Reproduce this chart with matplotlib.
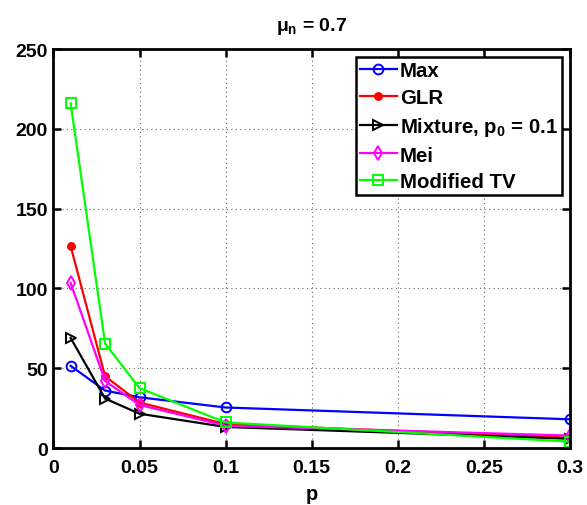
import matplotlib
matplotlib.use("Agg")
import matplotlib.pyplot as plt

plt.rcParams['font.family'] = ['Liberation Sans', 'DejaVu Sans']
plt.rcParams['font.weight'] = 'bold'
plt.rcParams['mathtext.fontset'] = 'custom'
plt.rcParams['mathtext.rm'] = 'Liberation Sans:bold'
plt.rcParams['mathtext.it'] = 'Liberation Sans:bold'
plt.rcParams['mathtext.bf'] = 'Liberation Sans:bold'

p = [0.01, 0.03, 0.05, 0.1, 0.3]
max_vals = [51.5, 36, 31.8, 25.4, 18]
glr_vals = [126.5, 45, 28.5, 15, 6.5]
mixture_vals = [69, 31, 21.5, 13.2, 5.8]
mei_vals = [103.5, 42, 27, 14, 7.8]
modtv_vals = [216, 65.5, 37.5, 16, 4]

series = [
    ("Max", max_vals, '#0000ff', 'o', 'none'),
    ("GLR", glr_vals, '#ff0000', '.', None),
    (r"Mixture, $\mathregular{p_0}$ = 0.1", mixture_vals, '#000000', '>', 'none'),
    ("Mei", mei_vals, '#ff00ff', 'd', 'none'),
    ("Modified TV", modtv_vals, '#00ff00', 's', 'none'),
]

fig = plt.figure(figsize=(5.87, 5.06), dpi=100)
ax = fig.add_axes([0.091, 0.1126, 0.880, 0.7884])

for label, vals, color, marker, mfc in series:
    kw = dict(color=color, marker=marker, lw=1.6, label=label, mew=1.4)
    if mfc == 'none':
        kw['mfc'] = 'none'
        kw['ms'] = 7
    else:
        kw['ms'] = 10
    ax.plot(p, vals, **kw)

ax.set_xlim(0, 0.3)
ax.set_ylim(0, 250)
ax.set_xticks([0, 0.05, 0.1, 0.15, 0.2, 0.25, 0.3])
ax.set_xticklabels(['0', '0.05', '0.1', '0.15', '0.2', '0.25', '0.3'])
ax.set_yticks([0, 50, 100, 150, 200, 250])
ax.tick_params(direction='in', length=6, width=1.8, top=True, right=True,
               labelsize=14)
ax.tick_params(axis='x', pad=8)
ax.tick_params(axis='y', pad=4)
for lab in ax.get_xticklabels() + ax.get_yticklabels():
    lab.set_fontweight('bold')
for s in ax.spines.values():
    s.set_linewidth(2)
ax.grid(True, linestyle=(0, (1, 3)), color='#666666', linewidth=0.8)

ax.set_xlabel('p', fontsize=14.5, fontweight='bold', labelpad=6)
ax.set_title(r'$\mu_\mathregular{n}$ = 0.7', fontsize=14, fontweight='bold', pad=14)

leg = ax.legend(loc='upper right', fontsize=14.7, handlelength=1.8,
                handletextpad=0.15, borderpad=0.2, labelspacing=0.38,
                fancybox=False, framealpha=1, borderaxespad=0.4)
leg.get_frame().set_edgecolor('black')
leg.get_frame().set_linewidth(1.8)
for t in leg.get_texts():
    t.set_fontweight('bold')

fig.savefig('out.png', dpi=100)
